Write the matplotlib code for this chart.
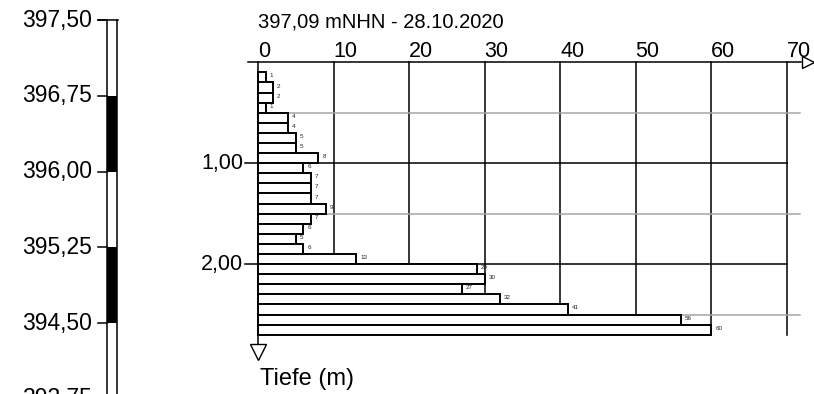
import matplotlib.pyplot as plt
import numpy as np

plt.rcParams['font.family'] = ['Liberation Sans', 'DejaVu Sans']

# Schlagzahlen je 10 cm, ab 0,10 m Tiefe
schlaege = [1, 2, 2, 1, 4, 4, 5, 5, 8, 6, 7, 7, 7, 9, 7, 6, 5, 6, 13, 29, 30, 27, 32, 41, 56, 60]
tiefe_start = 0.1
schritt = 0.1
x_ticks = [0, 10, 20, 30, 40, 50, 60, 70]
tiefe_ticks = [1.0, 2.0]
tiefe_ticklabels = ["1,00", "2,00"]
tiefe_grau = [0.5, 1.5, 2.5]
titel = "397,09 mNHN - 28.10.2020"

# Höhenskala links
hoehen_ticks = [397.50, 396.75, 396.00, 395.25, 394.50, 393.75]
hoehen_labels = ["397,50", "396,75", "396,00", "395,25", "394,50", "393,75"]
schicht_oben = [396.75, 395.25]
schicht_unten = [396.00, 394.50]

W, H = 814, 394
fig = plt.figure(figsize=(W / 100, H / 100), dpi=100)

# Pixel-Geometrie
x0_px, x70_px = 258.0, 786.7
y0_px = 62.3
pxm = 100.9          # Pixel pro Meter
pxu = (x70_px - x0_px) / 70.0
tmax = 2.7

ax = fig.add_axes([x0_px / W, 1 - (y0_px + tmax * pxm) / H,
                   (x70_px - x0_px) / W, tmax * pxm / H])
ax.set_xlim(0, 70)
ax.set_ylim(tmax, 0)
ax.axis('off')

def px2x(p):
    return (p - x0_px) / pxu

def px2y(p):
    return (p - y0_px) / pxm

# Gitter
for xv in x_ticks[1:]:
    ax.plot([xv, xv], [0, tmax], color='black', lw=1.1, zorder=1, clip_on=False)
for yv in tiefe_grau:
    ax.plot([0, px2x(800)], [yv, yv], color='#a6a6a6', lw=1.1, zorder=1, clip_on=False)
for yv, lab in zip(tiefe_ticks, tiefe_ticklabels):
    ax.plot([px2x(245), 70], [yv, yv], color='black', lw=1.1, zorder=1, clip_on=False)
    ax.text(px2x(243), yv, lab, ha='right', va='center', fontsize=15.5, clip_on=False)

# Balken
tiefen = tiefe_start + np.arange(len(schlaege)) * schritt
ax.barh(tiefen, schlaege, height=schritt, align='edge', left=0,
        color='white', edgecolor='black', linewidth=1.4, zorder=3, clip_on=False)
for t, s in zip(tiefen, schlaege):
    ax.text(s + px2x(262) - px2x(258), t + 0.035, str(s), fontsize=4.5,
            color='#222222', ha='left', va='center', zorder=4, clip_on=False)

# Achsen mit Pfeilen
ax.plot([px2x(248), px2x(801)], [0, 0], color='black', lw=1.1, zorder=5, clip_on=False)
ax.plot([px2x(807.5)], [0], marker='>', ms=9, mfc='white', mec='black', mew=1,
        zorder=6, clip_on=False)
ax.plot([0, 0], [0, px2y(345)], color='black', lw=1.1, zorder=5, clip_on=False)
ax.plot([0], [px2y(352.5)], marker='v', ms=12, mfc='white', mec='black', mew=1,
        zorder=6, clip_on=False)

for xv in x_ticks:
    ax.text(xv, px2y(57), str(xv), ha='left', va='baseline', fontsize=15.5, clip_on=False)
ax.text(0, px2y(28), titel, ha='left', va='baseline', fontsize=14.5, clip_on=False)
ax.text(px2x(260), px2y(385), "Tiefe (m)", ha='left', va='baseline', fontsize=17,
        clip_on=False)

# Höhenspalte links
xl0, xl1 = 107.0, 117.0
top_px = 20.3
ylo = hoehen_ticks[0] - (H - top_px) / pxm
ax2 = fig.add_axes([xl0 / W, 0, (xl1 - xl0) / W, (H - top_px) / H])
ax2.set_xlim(0, 1)
ax2.set_ylim(ylo, hoehen_ticks[0])
ax2.axis('off')

ax2.bar([0.5] * len(schicht_oben), np.array(schicht_oben) - np.array(schicht_unten),
        bottom=schicht_unten, width=1.0, color='black', zorder=2)
for xv in [0, 1]:
    ax2.plot([xv, xv], [ylo, hoehen_ticks[0]], color='black', lw=1.1, zorder=3,
             clip_on=False)
ax2.plot([-0.9, 1.05], [hoehen_ticks[0], hoehen_ticks[0]], color='black', lw=1.1,
         zorder=3, clip_on=False)
for h, lab in zip(hoehen_ticks, hoehen_labels):
    ax2.plot([-0.9, 0], [h, h], color='black', lw=1.1, zorder=3, clip_on=False)
    ax2.text(-1.5, h, lab, ha='right', va='center', fontsize=16.5, clip_on=False)

fig.savefig('out.png', dpi=100)
